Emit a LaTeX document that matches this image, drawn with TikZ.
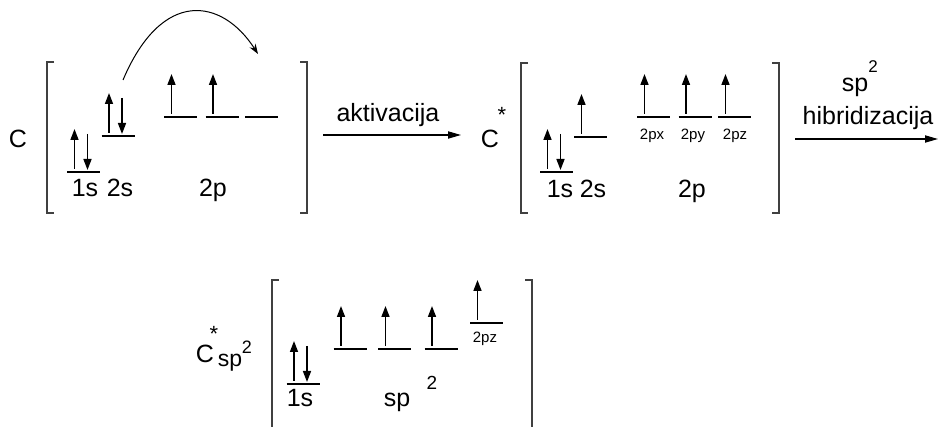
\documentclass[tikz,border=0pt]{standalone}
\usepackage{fontspec}
\setmainfont{Liberation Sans}
\usetikzlibrary{arrows.meta}

% one energy level: x, y, name
\newcommand{\orbital}[3]{%
  \coordinate (#3) at (#1,#2);
  \draw[lvl] ([xshift=-8.25pt]#3) -- ([xshift=8.25pt]#3);}
\newcommand{\eup}[1]{\draw[el] ([xshift=-4.5pt,yshift=1.5pt]#1) -- ++(0,-40);}
\newcommand{\edn}[1]{\draw[el] ([xshift=2pt,yshift=19pt]#1) -- ([xshift=2pt,yshift=1pt]#1);}

\begin{document}
\begin{tikzpicture}[x=0.5pt, y=-0.5pt,
  lvl/.style={line width=0.9pt},
  el/.style={line width=0.8pt, -{Triangle[length=5.5pt,width=4pt]}},
  rx/.style={line width=0.6pt, -{Triangle[length=6.5pt,width=3.6pt]}},
  brk/.style={line width=0.6pt, black!75},
  txt/.style={inner sep=0pt, anchor=base, font=\fontsize{12.5}{14}\selectfont},
  tiny/.style={inner sep=0pt, anchor=base, font=\fontsize{7.5}{9}\selectfont},
  idx/.style={inner sep=0pt, font=\fontsize{8.5}{10}\selectfont},
  star/.style={inner sep=0pt, anchor=north, font=\fontsize{11}{12}\selectfont}]
\path[use as bounding box] (0,0) rectangle (939,427);

% ground state
\node[txt] (cA) at (18,148) {C};
\draw[brk] (54,62) -- (47,62) -- (47,213) -- (54,213);
\draw[brk] (300,62) -- (307,62) -- (307,213) -- (300,213);
\orbital{83.5}{172}{a1s}
\orbital{118}{136}{a2s}
\orbital{180.5}{117}{a2px}
\orbital{222}{117}{a2py}
\orbital{261.5}{117}{a2pz}
\eup{a1s} \edn{a1s}
\eup{a2s} \edn{a2s}
\eup{a2px} \eup{a2py}
\node[txt] (lA1s) at (85,197) {1s};
\node[txt] (lA2s) at (120,197) {2s};
\node[txt] (lA2p) at (213,197) {2p};
\coordinate (jump) at (123,80);
\coordinate (land) at (258,54);
\draw[line width=0.5pt, -{Stealth[length=5pt,width=3.5pt]}] (jump) .. controls (162,-12) and (222,-2) .. (land);

% activation
\coordinate (akL) at (323,135);
\coordinate (akR) at (461,135);
\draw[rx] (akL) -- (akR);
\node[txt] (akt) at (388,122) {aktivacija};

% excited state
\node[txt] (cB) at (490,148) {C};
\node[star] (cBs) at (502,107) {*};
\draw[brk] (528,63) -- (521,63) -- (521,213) -- (528,213);
\draw[brk] (772,63) -- (779,63) -- (779,213) -- (772,213);
\orbital{556.5}{172}{b1s}
\orbital{590.5}{137}{b2s}
\orbital{653.5}{117}{b2px}
\orbital{695}{117}{b2py}
\orbital{734.5}{117}{b2pz}
\eup{b1s} \edn{b1s}
\eup{b2s}
\eup{b2px} \eup{b2py} \eup{b2pz}
\node[tiny] (lBpx) at (652,140) {2px};
\node[tiny] (lBpy) at (693,140) {2py};
\node[tiny] (lBpz) at (735,140) {2pz};
\node[txt] (lB1s) at (560,198) {1s};
\node[txt] (lB2s) at (593,198) {2s};
\node[txt] (lB2p) at (692,198) {2p};

% hybridization
\coordinate (hbL) at (795,139);
\coordinate (hbR) at (938,139);
\draw[rx] (hbL) -- (hbR);
\node[txt] (hbsp) at (855,92) {sp};
\node[idx] (hbsq) at (873,67) {2};
\node[txt] (hbt) at (868,125) {hibridizacija};

% hybrid state
\node[txt] (cC) at (205,363) {C};
\node[star] (cCs) at (214,326) {*};
\node[txt, font=\fontsize{11.5}{13}\selectfont] (cCsp) at (230,367) {sp};
\node[idx, font=\fontsize{9}{10}\selectfont] (cCsq) at (247,347) {2};
\draw[brk] (279,280) -- (272,280) -- (272,430);
\draw[brk] (525,280) -- (532,280) -- (532,430);
\orbital{303}{384}{c1s}
\orbital{350}{349}{csp1}
\orbital{394.5}{349}{csp2}
\orbital{441}{349}{csp3}
\orbital{486.5}{323}{c2pz}
\eup{c1s} \edn{c1s}
\eup{csp1} \eup{csp2} \eup{csp3}
\eup{c2pz}
\node[tiny] (lCpz) at (485,343) {2pz};
\node[txt] (lC1s) at (300,407) {1s};
\node[txt] (lCsp) at (397,407) {sp};
\node[idx, font=\fontsize{9.5}{11}\selectfont] (lCsq) at (432,383) {2};
\end{tikzpicture}
\end{document}
